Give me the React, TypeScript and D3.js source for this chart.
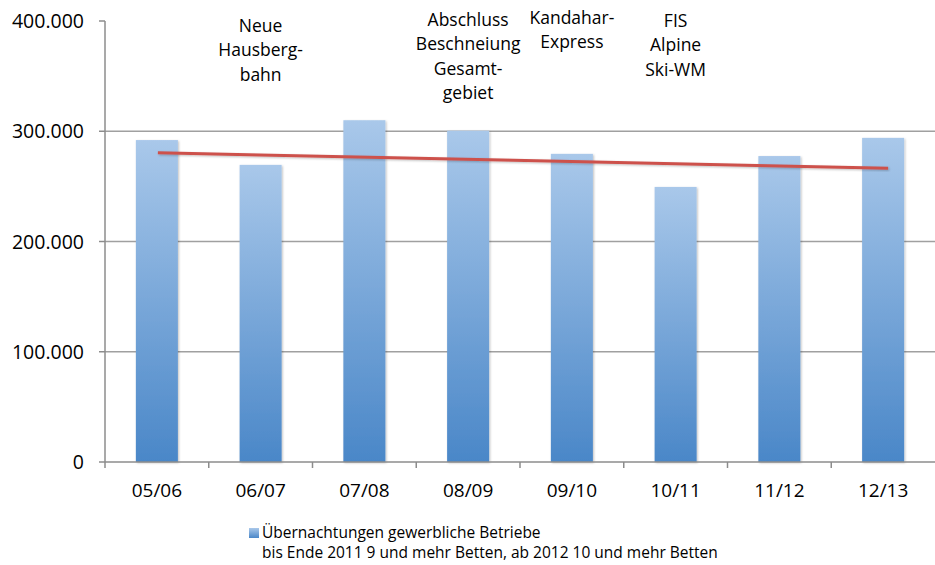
import React from "react";
import * as d3 from "d3";

// seasons and overnight stays (commercial businesses)
const seasons = ["05/06", "06/07", "07/08", "08/09", "09/10", "10/11", "11/12", "12/13"];
const stays = [292000, 269500, 310000, 300500, 279500, 249500, 277500, 294000];
// linear trend (start / end value, as drawn in the original)
const trendStart = 280500;
const trendEnd = 266500;
const yTicks = [0, 100000, 200000, 300000, 400000];

const events = [
  { season: "06/07", lines: ["Neue", "Hausberg-", "bahn"] },
  { season: "08/09", lines: ["Abschluss", "Beschneiung", "Gesamt-", "gebiet"] },
  { season: "09/10", lines: ["Kandahar-", "Express"] },
  { season: "10/11", lines: ["FIS", "Alpine", "Ski-WM"] },
];

const legendLines = [
  "Übernachtungen gewerbliche Betriebe",
  "bis Ende 2011 9 und mehr Betten, ab 2012 10 und mehr Betten",
];

const W = 935, H = 565;
const font = "'Open Sans', sans-serif";
const de = d3.formatLocale({ decimal: ",", thousands: ".", grouping: [3], currency: ["", "€"] });
const fmt = de.format(",");

export default function App() {
  const x = d3.scaleBand().domain(seasons).range([105, 935]).padding(0);
  const y = d3.scaleLinear().domain([0, 400000]).range([462, 21]);
  const bw = x.bandwidth() * 0.405;
  const cx = (s: string) => (x(s) as number) + x.bandwidth() / 2;

  // first baseline of each annotation block
  const firstBase: Record<string, number> = { "06/07": 32, "08/09": 26, "09/10": 24, "10/11": 27 };

  return (
    <svg width={W} height={H} style={{ position: "absolute", left: 0, top: 0, background: "#fff" }}>
      <defs>
        <linearGradient id="barGrad" x1="0" y1="0" x2="0" y2="1">
          <stop offset="0%" stopColor="#a9c8ea" />
          <stop offset="100%" stopColor="#4a87c8" />
        </linearGradient>
        <filter id="shadow" x="-20%" y="-20%" width="140%" height="140%">
          <feDropShadow dx="1" dy="1" stdDeviation="1.2" floodColor="#000" floodOpacity="0.25" />
        </filter>
      </defs>

      {/* gridlines */}
      {yTicks.filter(t => t > 0 && t < 400000).map(t => (
        <line key={t} x1={105} x2={935} y1={y(t)} y2={y(t)} stroke="#a0a0a0" strokeWidth={1.5} />
      ))}

      {/* bars */}
      {seasons.map((s, i) => (
        <rect key={s} x={cx(s) - bw / 2} y={y(stays[i])} width={bw} height={y(0) - y(stays[i])}
          fill="url(#barGrad)" filter="url(#shadow)" />
      ))}

      {/* trend line */}
      <line x1={cx(seasons[0]) + 1} x2={cx(seasons[seasons.length - 1]) + 5}
        y1={y(trendStart)} y2={y(trendEnd)} stroke="#cd514c" strokeWidth={3} filter="url(#shadow)" />

      {/* y axis */}
      <line x1={105} x2={105} y1={y(400000)} y2={y(0)} stroke="#8c8c8c" strokeWidth={1.5} />
      {yTicks.map(t => (
        <g key={t}>
          <line x1={99} x2={105} y1={y(t)} y2={y(t)} stroke="#8c8c8c" strokeWidth={1.5} />
          <text x={84} y={y(t)} dy="0.36em" textAnchor="end" fontFamily={font} fontSize={19.5} fill="#000">
            {fmt(t)}
          </text>
        </g>
      ))}

      {/* x axis */}
      <line x1={105} x2={935} y1={y(0)} y2={y(0)} stroke="#8c8c8c" strokeWidth={1.5} />
      {seasons.map(s => (
        <g key={s}>
          <line x1={x(s) as number} x2={x(s) as number} y1={y(0)} y2={y(0) + 6} stroke="#8c8c8c" strokeWidth={1.5} />
          <text x={cx(s)} y={497} textAnchor="middle" fontFamily={font} fontSize={19} fill="#000">{s}</text>
        </g>
      ))}

      {/* annotations */}
      {events.map(e => (
        <text key={e.season} x={cx(e.season)} y={firstBase[e.season]} textAnchor="middle"
          fontFamily={font} fontSize={17.5} fill="#000">
          {e.lines.map((l, i) => (
            <tspan key={i} x={cx(e.season)} dy={i === 0 ? 0 : 24.3}>{l}</tspan>
          ))}
        </text>
      ))}

      {/* legend */}
      <rect x={249} y={528} width={10} height={10} fill="url(#barGrad)" />
      {legendLines.map((l, i) => (
        <text key={i} x={262} y={538 + i * 20} fontFamily={font} fontSize={15.5} fill="#000">{l}</text>
      ))}
    </svg>
  );
}
